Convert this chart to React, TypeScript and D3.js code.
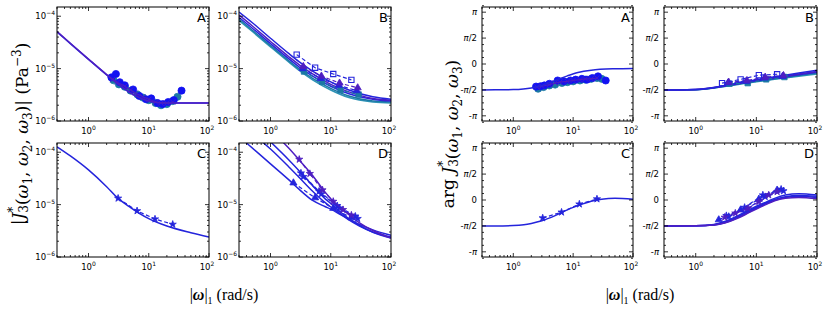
import React from "react";
import * as d3 from "d3";

const PI = Math.PI;

// colours of the series
const BLUE = "#2424dc";
const BLUE2 = "#1212f2";
const PURPLE = "#4e1ec2";
const TEAL = "#1b78a4";
const TEAL2 = "#2e93b6";

// ---------- magnitude panels ----------
const magA_lineX = [0.3, 0.5, 1, 2, 3, 5, 8, 12, 20, 50, 100];
const magA_line1 = [5e-5, 3e-5, 1.5e-5, 7.6e-6, 5.2e-6, 3.4e-6, 2.6e-6, 2.3e-6, 2.2e-6, 2.2e-6, 2.2e-6];
const magA_line2 = [5.1e-5, 3.05e-5, 1.52e-5, 7.7e-6, 5.3e-6, 3.45e-6, 2.62e-6, 2.3e-6, 2.2e-6, 2.2e-6, 2.2e-6];
const A_circX = [2.4, 2.85, 3.3, 4, 5.5, 7, 9, 11, 14, 17, 21, 26, 35];
const magA_circ = [6.8e-6, 7.9e-6, 5.5e-6, 4.8e-6, 4.0e-6, 3.0e-6, 2.6e-6, 2.7e-6, 2.2e-6, 2.1e-6, 2.3e-6, 2.5e-6, 3.8e-6];
const A_tealX = [2.6, 3.2, 4, 5, 6.5, 8, 10, 13, 16, 20, 25, 30];
const magA_teal = [6.0e-6, 5.0e-6, 4.5e-6, 3.8e-6, 3.2e-6, 2.8e-6, 2.5e-6, 2.2e-6, 2.0e-6, 2.1e-6, 2.4e-6, 2.9e-6];
const A_crossX = [2.5, 3, 4, 5, 6, 8, 10, 13, 16, 20, 25];
const magA_cross = [6.2e-6, 5.5e-6, 4.6e-6, 3.9e-6, 3.4e-6, 2.9e-6, 2.6e-6, 2.3e-6, 2.2e-6, 2.2e-6, 2.3e-6];

const B_lineX = [0.3, 0.5, 1, 2, 3, 5, 10, 20, 50, 100];
const magB_l1 = [1.2e-4, 7.5e-5, 3.8e-5, 1.95e-5, 1.35e-5, 9e-6, 5.6e-6, 3.9e-6, 2.9e-6, 2.6e-6];
const magB_l2 = [1.05e-4, 6.5e-5, 3.3e-5, 1.7e-5, 1.18e-5, 7.9e-6, 5.0e-6, 3.6e-6, 2.7e-6, 2.5e-6];
const magB_l3 = [9.5e-5, 5.9e-5, 3.0e-5, 1.55e-5, 1.07e-5, 7.2e-6, 4.6e-6, 3.3e-6, 2.6e-6, 2.4e-6];
const magB_l4 = [8.8e-5, 5.4e-5, 2.75e-5, 1.42e-5, 9.8e-6, 6.5e-6, 4.2e-6, 3.0e-6, 2.4e-6, 2.3e-6];
const magB_l5 = [8.3e-5, 5.1e-5, 2.6e-5, 1.34e-5, 9.2e-6, 6.1e-6, 3.9e-6, 2.8e-6, 2.3e-6, 2.2e-6];
const B_sqOpenX = [2.72, 5.5, 11, 22];
const magB_sqOpen = [1.85e-5, 1.04e-5, 7.9e-6, 6.1e-6];
const B_triPX = [3.5, 7, 14, 28];
const magB_triP = [1.1e-5, 7.2e-6, 5.3e-6, 4.3e-6];
const B_triBX = [3.4, 6.8, 13.6, 27];
const magB_triB = [1.0e-5, 6.5e-6, 4.8e-6, 3.8e-6];
const B_sqX = [3.6, 7.2, 14.5, 29];
const magB_sq = [8.8e-6, 5.6e-6, 3.9e-6, 3.2e-6];

const C_lineX = [0.3, 0.5, 1, 2, 3, 5, 10, 20, 50, 100];
const magC_line = [1.27e-4, 8.5e-5, 4.6e-5, 2.2e-5, 1.36e-5, 8.8e-6, 5.4e-6, 3.9e-6, 2.9e-6, 2.4e-6];
const C_starX = [3.1, 6.4, 12.7, 25];
const magC_star = [1.32e-5, 7.6e-6, 5.3e-6, 4.2e-6];

const D_m1X = [0.3, 0.4, 1, 2, 3, 5, 8, 10, 15, 20, 30, 50, 100];
const magD_m1 = [2.0e-4, 1.5e-4, 6.0e-5, 3.0e-5, 1.95e-5, 1.2e-5, 9.2e-6, 8.2e-6, 6.3e-6, 5.3e-6, 4.2e-6, 3.3e-6, 2.6e-6];
const D_m2X = [0.7, 1, 2, 3, 5, 8, 10, 15, 20, 30, 50, 100];
const magD_m2 = [1.65e-4, 1.15e-4, 5.3e-5, 3.3e-5, 1.8e-5, 1.1e-5, 9e-6, 6.5e-6, 5.1e-6, 3.9e-6, 3.0e-6, 2.4e-6];
const D_m3X = [1, 2, 3, 5, 8, 10, 15, 20, 30, 50, 100];
const magD_m3 = [1.58e-4, 7.2e-5, 4.4e-5, 2.3e-5, 1.3e-5, 1.05e-5, 7.0e-6, 5.4e-6, 4.0e-6, 2.95e-6, 2.3e-6];
const D_m4X = [1.5, 2, 3, 5, 8, 10, 15, 20, 30, 50, 100];
const magD_m4 = [1.7e-4, 1.2e-4, 7.1e-5, 3.6e-5, 1.75e-5, 1.3e-5, 8.5e-6, 6.4e-6, 4.5e-6, 3.2e-6, 2.3e-6];
const D_triX = [2.4, 5.5, 11, 22];
const magD_tri = [2.6e-5, 1.35e-5, 8.5e-6, 5.6e-6];
const D_starBX = [3.2, 6.4, 12.8, 25.6];
const magD_starB = [4.0e-5, 1.8e-5, 9.5e-6, 6.0e-6];
const D_starCX = [3.5, 7, 14, 28];
const magD_starC = [3.4e-5, 1.6e-5, 8.6e-6, 5.4e-6];
const D_starPX = [3.0, 4.5, 7.3, 11, 16, 22];
const magD_starP = [7.3e-5, 3.9e-5, 1.9e-5, 1.15e-5, 8.0e-6, 6.3e-6];

// ---------- phase panels ----------
const phA_line = [-1.571, -1.568, -1.55, -1.45, -1.3, -1.0, -0.72, -0.52, -0.38, -0.29, -0.27];
const phA_circ = [-1.37, -1.35, -1.3, -1.2, -1.0, -1.05, -1.0, -0.95, -0.9, -0.95, -0.85, -0.75, -1.0];
const phA_teal = [-1.5, -1.4, -1.3, -1.25, -1.15, -1.1, -1.05, -1.0, -0.95, -0.9, -0.85, -0.9];
const phA_cross = [-1.4, -1.35, -1.25, -1.15, -1.1, -1.05, -1.0, -0.95, -0.9, -0.9, -0.85];

const phB_l1 = [-1.571, -1.57, -1.55, -1.42, -1.3, -1.15, -0.95, -0.78, -0.55, -0.38];
const phB_l2 = [-1.571, -1.57, -1.55, -1.43, -1.32, -1.17, -0.98, -0.82, -0.6, -0.45];
const phB_l3 = [-1.571, -1.57, -1.55, -1.44, -1.34, -1.2, -1.02, -0.86, -0.65, -0.5];
const phB_l4 = [-1.571, -1.57, -1.56, -1.45, -1.35, -1.22, -1.05, -0.9, -0.7, -0.55];
const phB_l5 = [-1.571, -1.57, -1.56, -1.46, -1.36, -1.24, -1.08, -0.93, -0.74, -0.6];
const phB_sqOpen = [-1.16, -0.93, -0.68, -0.62];
const phB_triP = [-1.1, -1.0, -0.8, -0.7];
const phB_triB = [-1.15, -1.05, -0.85, -0.75];
const phB_sq = [-1.2, -1.16, -0.93, -0.79];

const C_phX = [0.3, 0.5, 1, 1.5, 2, 3, 5, 8, 10, 15, 20, 30, 50, 100];
const phC_line = [-1.571, -1.57, -1.55, -1.5, -1.42, -1.26, -0.95, -0.6, -0.45, -0.22, -0.08, 0.05, 0.1, 0.05];
const phC_star = [-1.09, -0.74, -0.25, 0.06];

const D_phX = [0.3, 1, 2, 3, 5, 8, 10, 15, 20, 30, 50, 100];
const phD_m1 = [-1.571, -1.56, -1.48, -1.3, -0.95, -0.55, -0.38, -0.1, 0.1, 0.3, 0.38, 0.3];
const phD_m2 = [-1.571, -1.56, -1.5, -1.35, -1.0, -0.62, -0.45, -0.15, 0.03, 0.2, 0.28, 0.22];
const phD_m3 = [-1.571, -1.56, -1.51, -1.38, -1.05, -0.68, -0.5, -0.2, -0.02, 0.15, 0.22, 0.15];
const phD_m4 = [-1.571, -1.56, -1.52, -1.4, -1.1, -0.72, -0.55, -0.25, -0.05, 0.1, 0.15, 0.08];
const phD_tri = [-1.2, -0.6, 0.05, 0.6];
const phD_starB = [-0.95, -0.45, 0.3, 0.65];
const phD_starC = [-1.0, -0.55, 0.2, 0.55];
const phD_starP = [-1.05, -0.8, -0.5, -0.1, 0.3, 0.5];

const xMajor = [1, 10, 100];
const magMajor = [1e-6, 1e-5, 1e-4];
const phMajor = [-PI, -PI / 2, 0, PI / 2, PI];
const phLabels = ["-π", "-π/2", "0", "π/2", "π"];

type Series = {
  x: number[];
  y: number[];
  color: string;
  marker?: "circle" | "square" | "squareOpen" | "triangle" | "star" | "cross";
  dash?: boolean;
  line?: boolean;
  smooth?: boolean;
};

const model = (x: number[], y: number[], color: string): Series => ({ x, y, color, line: true, smooth: true });
const data = (x: number[], y: number[], color: string, marker: Series["marker"], dash = false, line = true): Series => ({
  x, y, color, marker, dash, line,
});

const symbolOf: Record<string, d3.SymbolType> = {
  circle: d3.symbolCircle,
  square: d3.symbolSquare,
  squareOpen: d3.symbolSquare,
  triangle: d3.symbolTriangle,
  star: d3.symbolStar,
  cross: d3.symbolX,
};
const sizeOf: Record<string, number> = { circle: 40, square: 30, squareOpen: 28, triangle: 22, star: 16, cross: 20 };

const TICKFONT = "DejaVu Sans";

function Panel(props: {
  x0: number; x1: number; y0: number; y1: number;
  kind: "mag" | "phase"; letter: string; series: Series[];
}) {
  const { x0, x1, y0, y1, kind, letter, series } = props;
  const x = d3.scaleLog().domain([0.3, 100]).range([x0, x1]);
  const y: any = kind === "mag"
    ? d3.scaleLog().domain([1e-6, 1.5e-4]).range([y1, y0])
    : d3.scaleLinear().domain([-1.1 * PI, 1.1 * PI]).range([y1, y0]);
  const clipId = `clip-${x0}-${y0}`;

  const xMinor: number[] = [];
  [0.1, 1, 10].forEach((d) => { for (let k = 2; k <= 9; k++) { const v = d * k; if (v > 0.3 && v < 100) xMinor.push(v); } });
  const yMinor: number[] = [];
  if (kind === "mag") {
    [1e-6, 1e-5, 1e-4].forEach((d) => { for (let k = 2; k <= 9; k++) { const v = d * k; if (v < 1.5e-4) yMinor.push(v); } });
  } else {
    for (let i = -9; i <= 9; i++) if (i % 4 !== 0) yMinor.push((i * PI) / 8);
  }
  const yMaj = kind === "mag" ? magMajor : phMajor;

  const pathFor = (s: Series) => {
    const g = d3.line<number>()
      .x((_, i) => x(s.x[i]))
      .y((v) => y(v))
      .curve(s.smooth ? d3.curveMonotoneX : d3.curveLinear);
    return g(s.y) || "";
  };

  return (
    <g>
      <defs>
        <clipPath id={clipId}>
          <rect x={x0} y={y0} width={x1 - x0} height={y1 - y0} />
        </clipPath>
      </defs>
      <g clipPath={`url(#${clipId})`}>
        {series.map((s, i) => (
          <g key={i}>
            {s.line && (
              <path d={pathFor(s)} fill="none" stroke={s.color} strokeWidth={s.smooth ? 1.5 : 1.2}
                strokeDasharray={s.dash ? "4,2.5" : undefined} />
            )}
            {s.marker && s.y.map((v, j) => (
              <path key={j} transform={`translate(${x(s.x[j])},${y(v)})`}
                d={d3.symbol().type(symbolOf[s.marker!]).size(sizeOf[s.marker!])() || ""}
                fill={s.marker === "squareOpen" || s.marker === "cross" ? "none" : s.color}
                stroke={s.color} strokeWidth={s.marker === "squareOpen" ? 1.1 : 0.8} />
            ))}
          </g>
        ))}
      </g>
      {/* ticks on all four sides */}
      <g stroke="#000" strokeWidth={0.8}>
        {xMajor.map((v) => (
          <g key={"xm" + v}>
            <line x1={x(v)} x2={x(v)} y1={y1} y2={y1 - 4} />
            <line x1={x(v)} x2={x(v)} y1={y0} y2={y0 + 4} />
          </g>
        ))}
        {xMinor.map((v) => (
          <g key={"xn" + v}>
            <line x1={x(v)} x2={x(v)} y1={y1} y2={y1 - 2} />
            <line x1={x(v)} x2={x(v)} y1={y0} y2={y0 + 2} />
          </g>
        ))}
        {yMaj.map((v) => (
          <g key={"ym" + v}>
            <line x1={x0} x2={x0 + 4} y1={y(v)} y2={y(v)} />
            <line x1={x1} x2={x1 - 4} y1={y(v)} y2={y(v)} />
          </g>
        ))}
        {yMinor.map((v) => (
          <g key={"yn" + v}>
            <line x1={x0} x2={x0 + 2} y1={y(v)} y2={y(v)} />
            <line x1={x1} x2={x1 - 2} y1={y(v)} y2={y(v)} />
          </g>
        ))}
      </g>
      <rect x={x0} y={y0} width={x1 - x0} height={y1 - y0} fill="none" stroke="#000" strokeWidth={1} />
      {/* tick labels */}
      <g fontFamily={TICKFONT} fontSize={8.5} fill="#000">
        {xMajor.map((v, i) => (
          <text key={"xl" + v} x={x(v) - (i === 2 ? 2 : 0)} y={y1 + 13} textAnchor="middle">
            10<tspan dy={-4} fontSize={6}>{i}</tspan>
          </text>
        ))}
        {kind === "mag"
          ? magMajor.map((v) => (
              <text key={"yl" + v} x={x0 - 2} y={y(v) + 3} textAnchor="end">
                10<tspan dy={-4} fontSize={6}>{"\u2212" + String(-Math.round(Math.log10(v)))}</tspan>
              </text>
            ))
          : phMajor.map((v, i) => (
              <text key={"yl" + i} x={x0 - 5} y={y(v) + 3} textAnchor="end" fontSize={8.5}>
                {phLabels[i].split("").map((c, k) => (
                  <tspan key={k} fontStyle={c === "π" ? "italic" : "normal"}>{c}</tspan>
                ))}
              </text>
            ))}
      </g>
      <text x={x1 - 3} y={y0 + 15} textAnchor="end" fontFamily={TICKFONT} fontSize={13}>{letter}</text>
    </g>
  );
}

const colsL: [number, number][] = [[57, 209], [239, 391]];
const colsR: [number, number][] = [[482, 633], [664, 817]];
const rows: [number, number][] = [[7, 121], [143, 257]];

const magPanels: Series[][] = [
  [
    data(A_tealX, magA_teal, TEAL, "circle", false, false),
    data(A_circX, magA_circ, BLUE2, "circle", false, false),
    data(A_crossX, magA_cross, PURPLE, "cross", false, true),
    model(magA_lineX, magA_line1, BLUE),
    model(magA_lineX, magA_line2, PURPLE),
  ],
  [
    model(B_lineX, magB_l5, TEAL2),
    model(B_lineX, magB_l4, TEAL),
    model(B_lineX, magB_l3, BLUE),
    model(B_lineX, magB_l2, PURPLE),
    model(B_lineX, magB_l1, BLUE),
    data(B_sqX, magB_sq, TEAL, "square", true),
    data(B_triBX, magB_triB, BLUE, "triangle", true),
    data(B_triPX, magB_triP, PURPLE, "triangle", true),
    data(B_sqOpenX, magB_sqOpen, BLUE, "squareOpen", true),
  ],
  [model(C_lineX, magC_line, BLUE), data(C_starX, magC_star, BLUE, "star", true)],
  [
    model(D_m1X, magD_m1, BLUE),
    model(D_m2X, magD_m2, BLUE),
    model(D_m3X, magD_m3, BLUE),
    model(D_m4X, magD_m4, PURPLE),
    data(D_triX, magD_tri, BLUE, "triangle", true),
    data(D_starBX, magD_starB, BLUE, "star", true),
    data(D_starCX, magD_starC, BLUE, "star", true),
    data(D_starPX, magD_starP, PURPLE, "star", true),
  ],
];

const phPanels: Series[][] = [
  [
    data(A_tealX, phA_teal, TEAL, "circle", false, false),
    data(A_circX, phA_circ, BLUE2, "circle", false, false),
    data(A_crossX, phA_cross, PURPLE, "cross", false, true),
    model(magA_lineX, phA_line, BLUE),
  ],
  [
    model(B_lineX, phB_l5, TEAL2),
    model(B_lineX, phB_l4, TEAL),
    model(B_lineX, phB_l3, BLUE),
    model(B_lineX, phB_l2, PURPLE),
    model(B_lineX, phB_l1, BLUE),
    data(B_sqX, phB_sq, TEAL, "square", true),
    data(B_triBX, phB_triB, BLUE, "triangle", true),
    data(B_triPX, phB_triP, PURPLE, "triangle", true),
    data(B_sqOpenX, phB_sqOpen, BLUE, "squareOpen", true),
  ],
  [model(C_phX, phC_line, BLUE), data(C_starX, phC_star, BLUE, "star", true)],
  [
    model(D_phX, phD_m1, BLUE),
    model(D_phX, phD_m2, BLUE),
    model(D_phX, phD_m3, BLUE),
    model(D_phX, phD_m4, PURPLE),
    data(D_triX, phD_tri, BLUE, "triangle", true),
    data(D_starBX, phD_starB, BLUE, "star", true),
    data(D_starCX, phD_starC, BLUE, "star", true),
    data(D_starPX, phD_starP, PURPLE, "star", true),
  ],
];

const letters = ["A", "B", "C", "D"];
const SERIF = "DejaVu Serif";

function OmegaArgs() {
  return (
    <>
      <tspan>(</tspan>
      <tspan fontStyle="italic">ω</tspan><tspan dy={4} fontSize={12}>1</tspan>
      <tspan dy={-4}>, </tspan>
      <tspan fontStyle="italic">ω</tspan><tspan dy={4} fontSize={12}>2</tspan>
      <tspan dy={-4}>, </tspan>
      <tspan fontStyle="italic">ω</tspan><tspan dy={4} fontSize={12}>3</tspan>
      <tspan dy={-4}>)</tspan>
    </>
  );
}

export default function App() {
  return (
    <svg width={830} height={312} style={{ position: "absolute", left: 0, top: 0, background: "#fff" }}>
      {[0, 1, 2, 3].map((i) => (
        <Panel key={"m" + i} x0={colsL[i % 2][0]} x1={colsL[i % 2][1]} y0={rows[Math.floor(i / 2)][0]}
          y1={rows[Math.floor(i / 2)][1]} kind="mag" letter={letters[i]} series={magPanels[i]} />
      ))}
      {[0, 1, 2, 3].map((i) => (
        <Panel key={"p" + i} x0={colsR[i % 2][0]} x1={colsR[i % 2][1]} y0={rows[Math.floor(i / 2)][0]}
          y1={rows[Math.floor(i / 2)][1]} kind="phase" letter={letters[i]} series={phPanels[i]} />
      ))}
      <text transform="translate(24,134) rotate(-90)" textAnchor="middle" fontFamily={SERIF} fontSize={17}>
        |<tspan fontStyle="italic">J</tspan>
        <tspan dy={-7} fontSize={12}>*</tspan>
        <tspan dx={-6} dy={11} fontSize={12}>3</tspan>
        <tspan dy={-4}></tspan>
        <OmegaArgs />
        <tspan>| (Pa</tspan>
        <tspan dy={-7} fontSize={12}>−3</tspan>
        <tspan dy={7}>)</tspan>
      </text>
      <text transform="translate(454,134) rotate(-90)" textAnchor="middle" fontFamily={SERIF} fontSize={17}>
        arg <tspan fontStyle="italic">J</tspan>
        <tspan dy={-7} fontSize={12}>*</tspan>
        <tspan dx={-6} dy={11} fontSize={12}>3</tspan>
        <tspan dy={-4}></tspan>
        <OmegaArgs />
      </text>
      {[224, 640].map((cx) => (
        <text key={cx} x={cx} y={300} textAnchor="middle" fontFamily="Liberation Serif" fontSize={16}>
          |<tspan fontWeight="bold" fontStyle="italic">ω</tspan>|<tspan dy={4} fontSize={10}>1</tspan>
          <tspan dy={-4}> (rad/s)</tspan>
        </text>
      ))}
    </svg>
  );
}
